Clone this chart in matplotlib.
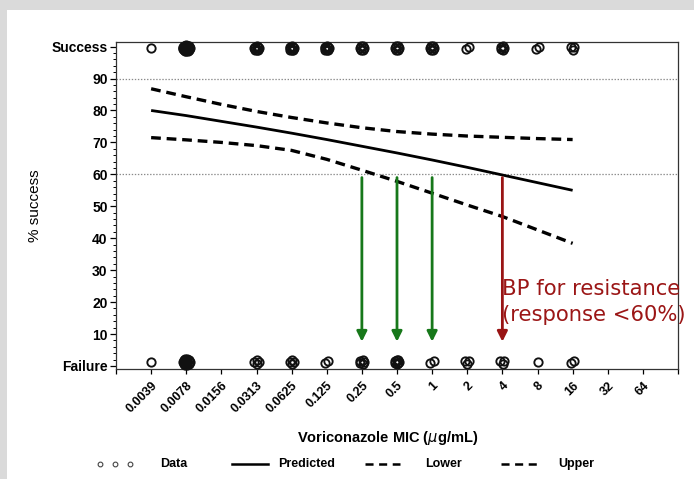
import numpy as np
import matplotlib

matplotlib.use("Agg")
import matplotlib.pyplot as plt
from matplotlib.lines import Line2D
from matplotlib.patches import Rectangle
from matplotlib.transforms import offset_copy

plt.rcParams["font.family"] = ["Liberation Sans", "DejaVu Sans"]
plt.rcParams["lines.scale_dashes"] = False

# MIC dilution series (ug/mL) shown on the x axis
mic_labels = ["0.0039", "0.0078", "0.0156", "0.0313", "0.0625", "0.125", "0.25",
              "0.5", "1", "2", "4", "8", "16", "32", "64"]

# number of observed patients per MIC, by outcome
success_n = [1, 20, 0, 8, 8, 8, 6, 6, 6, 2, 5, 2, 3, 0, 0]
failure_n = [1, 14, 0, 4, 4, 2, 5, 7, 2, 3, 3, 1, 2, 0, 0]

# fitted logistic model (% success) for MIC 0.0039 .. 16
predicted = [80.0, 78.4, 76.6, 74.8, 72.9, 70.9, 68.8, 66.7, 64.5, 62.2, 59.8, 57.4, 55.0]
upper = [86.8, 84.3, 81.9, 79.7, 77.8, 76.1, 74.6, 73.4, 72.6, 72.0, 71.6, 71.2, 70.9]
lower = [71.5, 70.8, 70.0, 69.0, 67.5, 64.7, 61.3, 57.8, 54.1, 50.4, 46.8, 42.6, 38.4]

# susceptible MICs (green) and resistance breakpoint (red)
susceptible_mics = ["0.25", "0.5", "1"]
breakpoint_mic = "4"
response_cut = 60

W, H = 694, 479
fig = plt.figure(figsize=(W / 100, H / 100), dpi=100, facecolor="#dadada")
fig.patches.append(Rectangle((7 / W, 0), 1, (H - 10) / H, transform=fig.transFigure,
                             facecolor="white", edgecolor="none", zorder=-10))

ax = fig.add_axes([116 / W, 110 / H, (678 - 116) / W, (369 - 41.5) / H])
ax.set_facecolor("white")

x_all = np.arange(len(mic_labels))
x_fit = x_all[:len(predicted)]

# reference lines
for level in (90, 60):
    ax.axhline(level, color="#8a8a8a", lw=0.9, ls=(0, (1, 1.2)), zorder=1)

ax.plot(x_fit, predicted, color="black", lw=2.0, solid_capstyle="butt", zorder=3)
ax.plot(x_fit, upper, color="black", lw=2.4, dashes=(7, 4.2), zorder=3)
ax.plot(x_fit, lower, color="black", lw=2.4, dashes=(7, 4.2), zorder=3)


def cluster(xpos, ypos, n):
    # overlapping open circles, one per patient
    if n == 0:
        return
    if n == 1:
        offsets = [(0.0, 0.0)]
    elif n <= 3:
        offsets = [(1.5 * np.cos(a), 1.5 * np.sin(a))
                   for a in np.linspace(0, 2 * np.pi, n, endpoint=False) + 0.6]
    elif n <= 9:
        offsets = [(1.5 * np.cos(a), 1.5 * np.sin(a))
                   for a in np.linspace(0, 2 * np.pi, n, endpoint=False)]
    else:
        offsets = [(2.4 * np.cos(a), 2.1 * np.sin(a))
                   for a in np.linspace(0, 2 * np.pi, n - 4, endpoint=False)]
        offsets += [(0.8, 0.8), (-0.8, 0.8), (0.8, -0.8), (-0.8, -0.8)]
    for dx, dy in offsets:
        tr = offset_copy(ax.transData, fig=fig, x=dx, y=dy, units="points")
        ax.plot([xpos], [ypos], marker="o", ms=6.0, mfc="none", mec="#111111",
                mew=1.35, transform=tr, clip_on=False, zorder=4)


for xi, n in zip(x_all, success_n):
    cluster(xi, 99.5, n)
for xi, n in zip(x_all, failure_n):
    cluster(xi, 1.3, n)

# arrows from the 60% line down to the MIC axis
for label in susceptible_mics:
    xi = mic_labels.index(label)
    ax.annotate("", xy=(xi, 7.6), xytext=(xi, 59.0),
                arrowprops=dict(arrowstyle="-|>", color="#17781a", lw=2.0,
                                mutation_scale=15, shrinkA=0, shrinkB=0), zorder=5)
xi = mic_labels.index(breakpoint_mic)
ax.annotate("", xy=(xi, 7.6), xytext=(xi, 59.0),
            arrowprops=dict(arrowstyle="-|>", color="#991414", lw=2.0,
                            mutation_scale=15, shrinkA=0, shrinkB=0), zorder=5)

ax.text(xi + 0.0, 20.0, "BP for resistance\n(response <%d%%)" % response_cut,
        color="#9b1616", fontsize=15.2, family="DejaVu Sans", ha="left",
        va="center", linespacing=1.35, clip_on=False, zorder=6)

ax.set_xlim(-1, 15)
ax.set_ylim(-0.95, 101.6)

ax.set_xticks(np.arange(-1, 16))
ax.set_xticklabels([""] + mic_labels + [""], rotation=45, ha="right", va="top",
                   rotation_mode="anchor", fontsize=9, fontweight="bold")
ax.set_yticks(np.arange(0, 101, 10))
ax.set_yticklabels(["Failure"] + [str(v) for v in range(10, 100, 10)] + ["Success"],
                   fontsize=10, fontweight="bold")
ax.set_yticks(np.arange(0, 101, 2), minor=True)
ax.tick_params(axis="y", which="major", length=4, width=0.9, pad=2)
ax.tick_params(axis="y", which="minor", length=2, width=0.7)
ax.tick_params(axis="x", which="major", length=3.5, width=0.9, pad=4)
for spine in ax.spines.values():
    spine.set_linewidth(0.9)
    spine.set_color("#333333")

ax.set_ylabel("% success", fontsize=11)
ax.yaxis.set_label_coords((42 - 116) / (678 - 116), 0.5)
fig.text(388 / W, 1 - 438 / H, "Voriconazole MIC ($\\mu$g/mL)", ha="center", va="center",
         fontsize=10.5, fontweight="bold")

# legend row under the plot
ly = 1 - 464 / H
for px in (100, 115, 130):
    fig.add_artist(Line2D([px / W], [ly], marker="o", ms=3.4, mfc="none", mec="#444444",
                          mew=0.8, transform=fig.transFigure))
legend_items = [
    (None, 160, "Data"),
    ("-", (232, 268, 278), "Predicted"),
    ("--", (365, 400, 425), "Lower"),
    ("--", (501, 537, 558), "Upper"),
]
for style, pos, name in legend_items:
    if style is None:
        tx = pos
    else:
        x0, x1, tx = pos
        line = Line2D([x0 / W, x1 / W], [ly, ly], color="black", lw=1.8,
                      transform=fig.transFigure)
        if style == "--":
            line.set_dashes((5.8, 4.0))
        fig.add_artist(line)
    fig.text(tx / W, ly, name, ha="left", va="center", fontsize=9, fontweight="bold")

fig.savefig("out.png", dpi=100, facecolor=fig.get_facecolor())
